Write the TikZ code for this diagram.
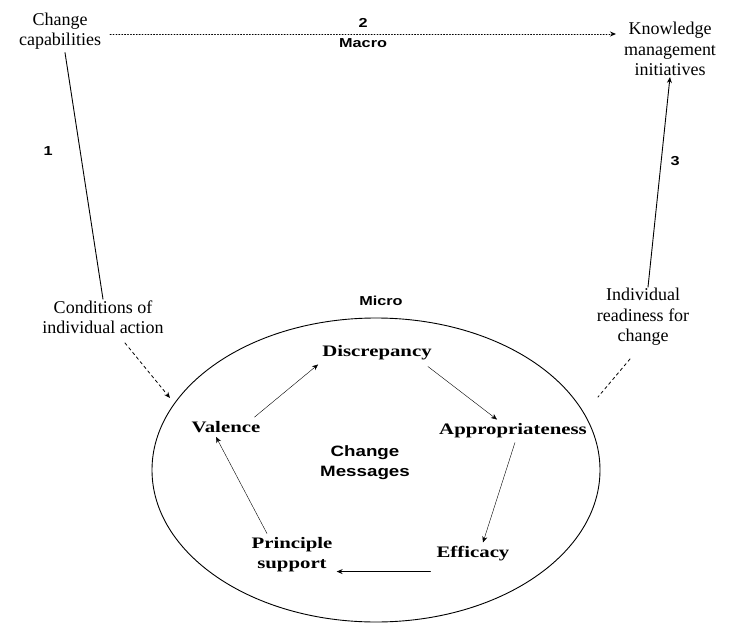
\documentclass[tikz,border=0pt]{standalone}
\usepackage{fontspec}
\setmainfont{Liberation Serif}
\setsansfont{Liberation Sans}
\newfontfamily\widerm{Liberation Serif}[FakeStretch=1.3]
\newfontfamily\widesf{Liberation Sans}[FakeStretch=1.25]
\usetikzlibrary{arrows.meta,shapes.geometric}
\begin{document}
\begin{tikzpicture}[x=1pt,y=-1pt, line join=round, line cap=round,>={Stealth[length=6pt,width=5pt]},
  outer/.style={align=center, font=\rmfamily\fontsize{18}{20.5}\selectfont, inner sep=1pt},
  inner/.style={align=center, font=\widerm\fontsize{16}{20}\selectfont\bfseries, inner sep=4pt},
  num/.style={font=\widesf\bfseries\fontsize{13}{15}\selectfont, inner sep=1pt}]
\useasboundingbox (0,0) rectangle (732,624);
% outer labels
\node[outer] (cap) at (60,31) {Change\\capabilities};
\node[outer] (kmi) at (670,49) {Knowledge\\management\\initiatives};
\node[outer] (cia) at (103,317) {Conditions of\\individual action};
\node[outer] (irc) at (643,317) {Individual\\readiness for\\change};
% micro level
\node[draw, ellipse, minimum width=448pt, minimum height=304pt, line width=0.9pt] (micro) at (376,470) {};
\node[num] (mic) at (381,301) {Micro};
\node[font=\widesf\bfseries\fontsize{15}{20}\selectfont, align=center] (msg) at (365,463) {Change\\Messages};
\path (377,353) coordinate (D) (513,431) coordinate (A) (473,554) coordinate (E) (292,555) coordinate (P) (226,427) coordinate (V);
\node[inner] (dis) at (D) {Discrepancy};
\node[inner] (app) at (A) {Appropriateness};
\node[inner] (eff) at (E) {Efficacy};
\node[inner] (pri) at (P) {Principle\\support};
\node[inner] (val) at (V) {Valence};
\draw[->] (val.north east) ++(-10,0) -- (dis.south west);
\draw[->] (dis.south east) ++(-8,2) -- ([xshift=-16pt]app.north);
\draw[->] ([xshift=2pt]app.south) -- ([xshift=10pt]eff.north);
\draw[->, line width=1.1pt] (eff.south west) ++(-2,6) coordinate (e1) -- (e1 -| pri.east);
\draw[->] ([xshift=-25pt]pri.north) -- ([xshift=-10pt]val.south);
% connectors
\draw[->, dotted, line width=0.9pt] ([xshift=8pt]cap.east |- 0,34) -- (616,34) node[num, midway, above=5pt] {2} node[num, midway, below=3pt] {Macro};
\draw[line width=0.9pt] (cap.south) ++(5,2) -- (cia.north) node[num, pos=0.4, left=26pt] {1};
\draw[->, line width=0.9pt] (irc.north) ++(5,0) -- (kmi.south) node[num, pos=0.6, right=8pt] {3};
\draw[->, dashed, line width=0.8pt] (125,343) -- (170,398);
\draw[dashed, line width=0.8pt] (630,359) -- (598,397);
\end{tikzpicture}
\end{document}
